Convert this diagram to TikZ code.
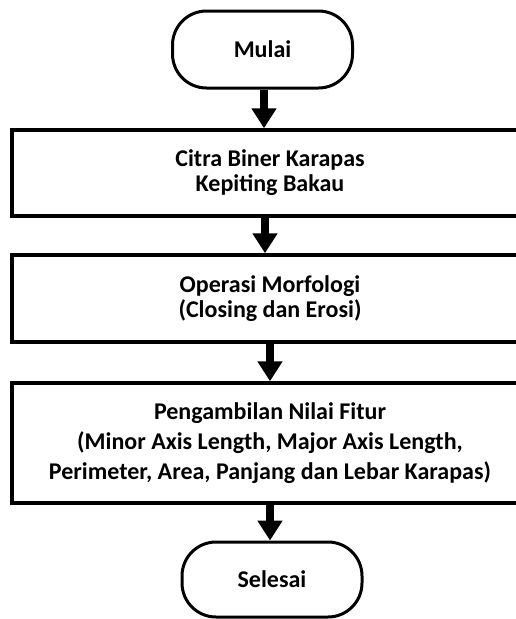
\documentclass[tikz,border=0pt]{standalone}
\usepackage{fontspec}
\setmainfont{Carlito}
\usetikzlibrary{arrows.meta}

\tikzset{
  terminal/.style={draw, line width=3pt, rounded corners=34pt,
    minimum width=180pt, minimum height=77pt, inner sep=0pt,
    font=\fontsize{24}{25}\selectfont\bfseries},
  process/.style={draw, line width=3.5pt, minimum width=516pt,
    inner sep=0pt, align=center,
    font=\fontsize{24}{25}\selectfont\bfseries},
  flow/.style={line width=8pt, -{Triangle[width=24pt,length=20pt]}}
}

\begin{document}
\begin{tikzpicture}[x=1pt, y=-1pt]
  \useasboundingbox (0,0) rectangle (516,619);
  \clip (0,0) rectangle (516,619);
  \fill[white] (0,0) rectangle (516,619);

  \node[terminal] (start) at (262.5,49.5) {Mulai};
  \node[process, minimum height=86pt] (b1) at (270,173)
    {Citra Biner Karapas\\Kepiting Bakau};
  \node[process, minimum height=87pt] (b2) at (270,298.5)
    {Operasi Morfologi\\(Closing dan Erosi)};
  \node[process, minimum height=120pt,
        font=\fontsize{24}{30}\selectfont\bfseries] (b3) at (270,443)
    {Pengambilan Nilai Fitur\\(Minor Axis Length, Major Axis Length,\\Perimeter, Area, Panjang dan Lebar Karapas)};
  \node[terminal, minimum height=75pt] (end) at (272,579.5) {Selesai};

  \draw[flow] ([xshift=1.5pt]start.south) -- ([xshift=1.5pt]start.south |- b1.north);
  \draw[flow] ([xshift=-5pt]b1.south) -- ([xshift=-5pt]b2.north);
  \draw[flow] (b2.south) -- (b3.north);
  \draw[flow] (b3.south) -- (b3.south |- end.north);
\end{tikzpicture}
\end{document}
